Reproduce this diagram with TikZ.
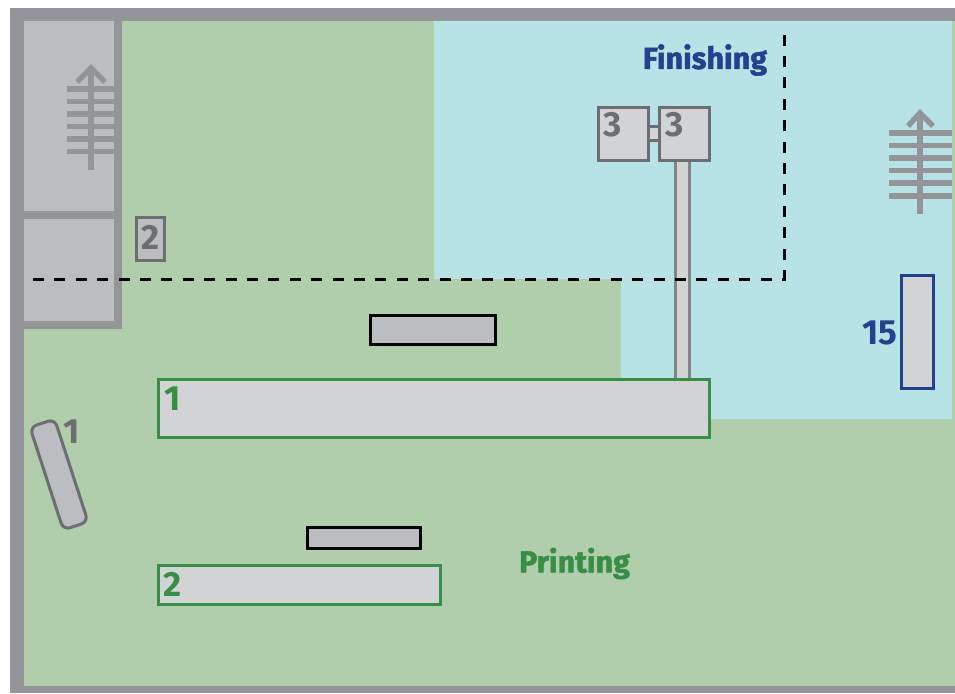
\documentclass[tikz,border=0pt]{standalone}
\usepackage{fontspec}
\setmainfont{Fira Sans}
\newfontfamily\zonefam[FakeBold=1.6]{Fira Sans Bold}
\definecolor{wallgray}{HTML}{939598}
\definecolor{roomgray}{HTML}{BCBDC0}
\definecolor{floorgreen}{HTML}{B0CDAC}
\definecolor{floorblue}{HTML}{B8E3E6}
\definecolor{machinegray}{HTML}{D1D3D4}
\definecolor{edgegray}{HTML}{6D6E71}
\definecolor{printgreen}{HTML}{388E45}
\definecolor{finishblue}{HTML}{25408F}
\newcommand{\numfont}{\fontsize{35}{35}\selectfont\bfseries}
\newcommand{\zonefont}{\fontsize{30.5}{30.5}\selectfont\zonefam}
\tikzset{machine/.style = {rectangle,draw,line width=3pt,fill=machinegray,inner sep=0pt},
         table/.style = {rectangle,draw=black,line width=3pt,fill=roomgray,inner sep=0pt},
         num/.style = {inner sep=0pt,font=\numfont},
         zone/.style = {inner sep=0pt,font=\zonefont},
         wall/.style = {draw=none,fill=wallgray},
         exit/.style = {draw=wallgray,line width=5.5pt},
         border/.style = {dash pattern=on 11pt off 10.4pt,line width=3pt}}

\begin{document}
\begin{tikzpicture}[x=1pt,y=-1pt]
    \useasboundingbox (0,0) rectangle (955,693);

    % floor
    \fill[wallgray] (10,8) rectangle (955,693);
    \fill[floorgreen] (24,21) rectangle (955,686);
    \fill[floorblue] (434,21) -- (952,21) -- (952,419) -- (621,419) -- (621,279) -- (434,279) -- cycle;

    % side rooms
    \fill[roomgray] (24,21) rectangle (115,322);
    \path[wall] (114,21) rectangle (122,329);
    \path[wall] (24,211) rectangle (122,219);
    \path[wall] (24,321) rectangle (122,329);

    % exits
    \draw[exit] (91,170) -- (91,67);
    \draw[exit] (77,82) -- (91,68) -- (105,82);
    \foreach \y in {89,101.5,114,126.5,139,151.5}
        \draw[exit] (67,\y) -- (114,\y);
    \draw[exit] (920,214) -- (920,112);
    \draw[exit] (908,126) -- (920,113) -- (933,126);
    \foreach \y in {133,145.5,158,170.5,183,196}
        \draw[exit] (889,\y) -- (952,\y);

    % finishing line
    \coordinate (linea) at (33,279);
    \coordinate (lineb) at (784,279);
    \coordinate (linec) at (784,30);
    \coordinate (stemtop) at (682.5,160);
    \coordinate (stembot) at (682.5,380);

    \draw[double=machinegray,double distance=11.5pt,line width=3pt,draw=edgegray!85!white] (stemtop) to (stembot);
    \draw[border] (linea) -- (lineb) -- (linec);

    % machines
    \node[machine,draw=edgegray,minimum width=50pt,minimum height=53pt] (fold1) at (623.5,133.5) {};
    \node[machine,draw=edgegray,minimum width=50pt,minimum height=53pt] (fold2) at (684.5,133.5) {};
    \draw[double=machinegray,double distance=11.5pt,line width=3pt,draw=edgegray] (fold1) to (fold2);
    \node[machine,draw=edgegray,fill=roomgray,minimum width=28pt,minimum height=43pt] (cutter) at (150.5,239) {};
    \node[machine,draw=printgreen,minimum width=551pt,minimum height=58pt] (press1) at (434,408.5) {};
    \node[machine,draw=printgreen,minimum width=282pt,minimum height=39pt] (press2) at (299.5,585) {};
    \node[machine,draw=finishblue,minimum width=32pt,minimum height=113pt] (rack) at (917.5,332) {};
    \node[table,minimum width=125pt,minimum height=29pt] (tablea) at (433,330) {};
    \node[table,minimum width=113pt,minimum height=21pt] (tableb) at (364,538) {};
    \node[machine,draw=edgegray,fill=roomgray,rounded corners=7pt,rotate=18,minimum width=26pt,minimum height=108pt] (bench) at (59,474.5) {};

    % labels
    \node[num,text=edgegray] (numa) at (613,125) {3};
    \node[num,text=edgegray] (numb) at (674.5,125) {3};
    \node[num,text=edgegray] (numc) at (150.5,237) {2};
    \node[num,text=edgegray] (numd) at (72,431.5) {1};
    \node[num,text=printgreen] (nume) at (173,398.5) {1};
    \node[num,text=printgreen] (numf) at (173,584) {2};
    \node[num,text=finishblue] (numg) at (879.5,333) {15};
    \node[zone,text=finishblue] (finishing) at (705,60) {Finishing};
    \node[zone,text=printgreen] (printing) at (574.5,563.5) {Printing};
\end{tikzpicture}
\end{document}
